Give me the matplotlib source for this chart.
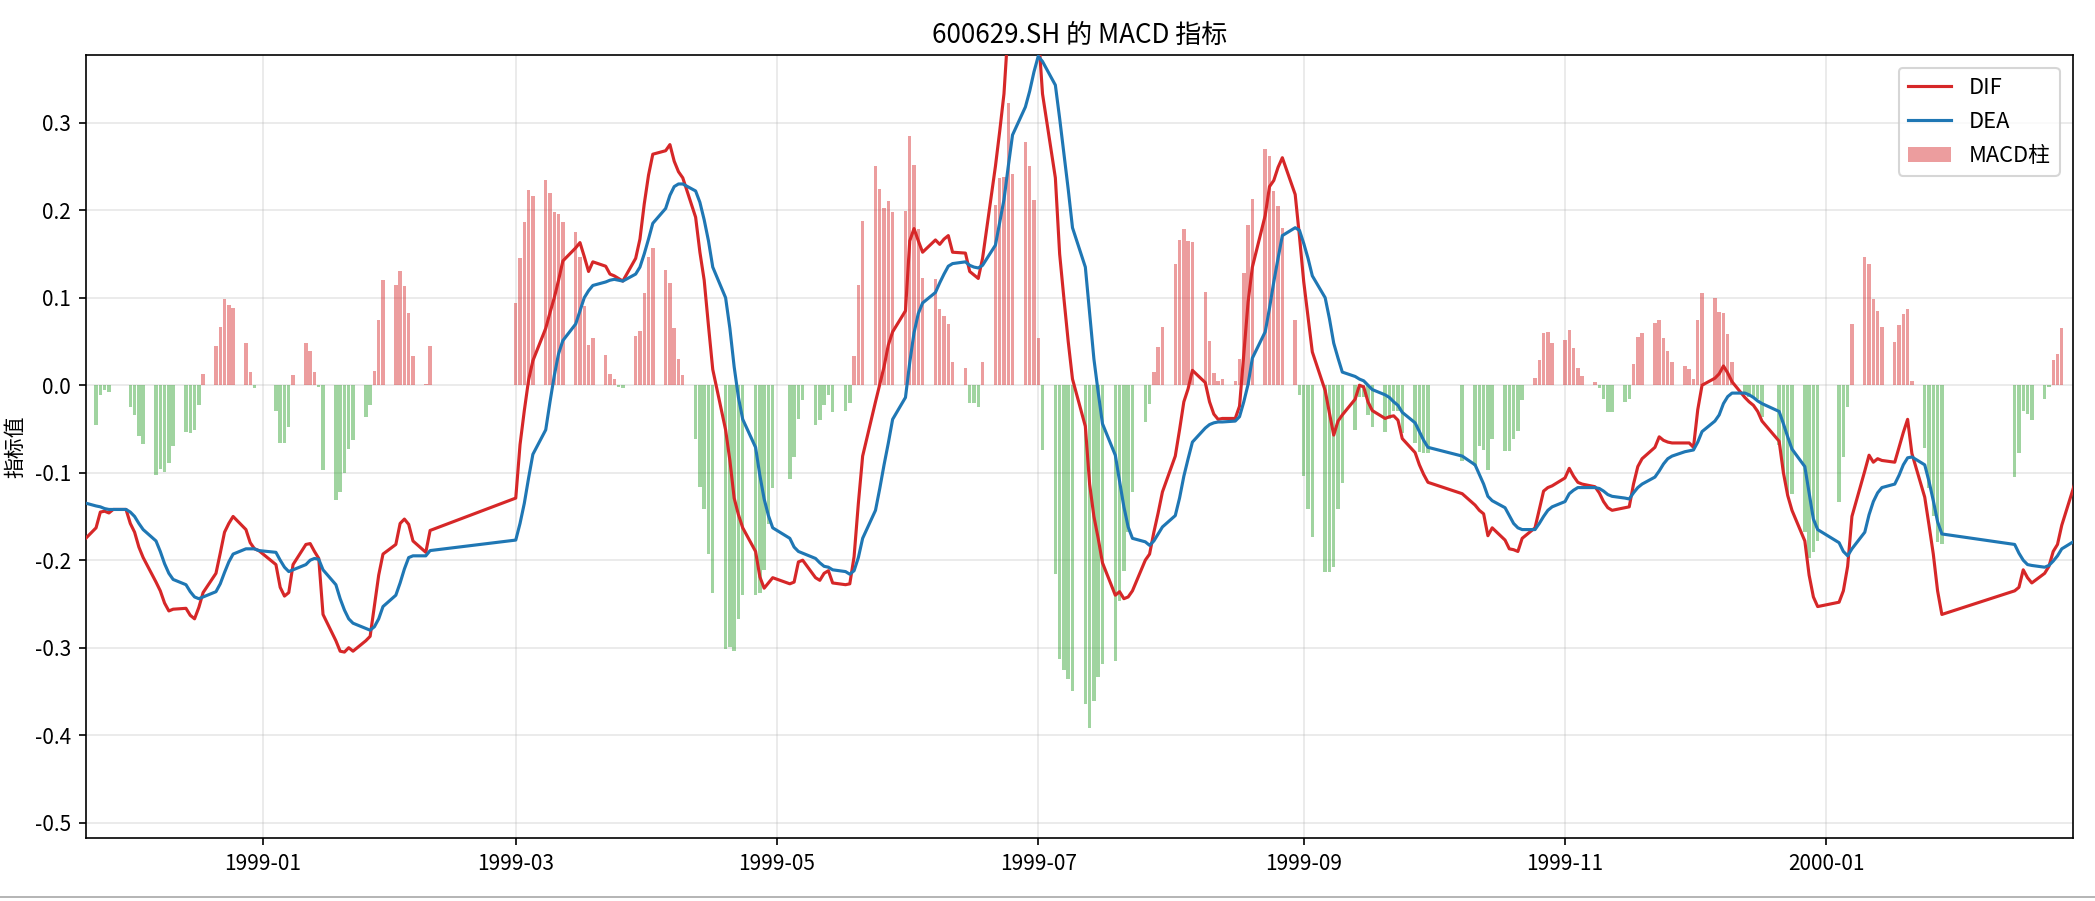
import numpy as np
import pandas as pd
import matplotlib
matplotlib.use("Agg")
import matplotlib.pyplot as plt
import matplotlib.dates as mdates
from matplotlib.patches import Patch
from matplotlib.lines import Line2D

plt.rcParams['font.family'] = ['Noto Sans CJK SC', 'DejaVu Sans']
plt.rcParams['axes.unicode_minus'] = False

# trading calendar (SSE), 1998-11-20 .. 2000-02-28
start_date = "1998-11-20"
end_date = "2000-02-28"
holidays = ["1999-01-01", ("1999-02-10", "1999-02-26"), "1999-05-03",
            ("1999-10-01", "1999-10-07"), "1999-12-20", "1999-12-31",
            "2000-01-03", ("2000-01-31", "2000-02-11")]

# MACD histogram (one value per trading day, grouped by week)
hist = [
    -0.087,
    -0.045, -0.011, -0.006, -0.008, 0.000,
    0.000, -0.025, -0.034, -0.058, -0.067,
    -0.103, -0.096, -0.099, -0.089, -0.069,
    -0.053, -0.055, -0.051, -0.023, 0.013,
    0.045, 0.067, 0.098, 0.092, 0.088,
    0.048, 0.015, -0.003, 0.000,
    -0.030, -0.066, -0.066, -0.048, 0.012,
    0.048, 0.039, 0.015, -0.002, -0.097,
    -0.131, -0.122, -0.100, -0.073, -0.063,
    -0.036, -0.023, 0.016, 0.074, 0.120,
    0.115, 0.130, 0.113, 0.083, 0.033,
    0.001, 0.045,
    0.094, 0.145, 0.187, 0.223, 0.216,
    0.235, 0.220, 0.198, 0.196, 0.187,
    0.175, 0.146, 0.090, 0.046, 0.054,
    0.035, 0.013, 0.007, -0.002, -0.003,
    0.056, 0.062, 0.105, 0.146, 0.157,
    0.132, 0.117, 0.065, 0.030, 0.012,
    -0.062, -0.116, -0.141, -0.193, -0.237,
    -0.301, -0.299, -0.304, -0.267, -0.240,
    -0.240, -0.238, -0.211, -0.159, -0.117,
    -0.107, -0.082, -0.039, -0.017,
    -0.045, -0.040, -0.023, -0.011, -0.031,
    -0.029, -0.020, 0.033, 0.115, 0.188,
    0.251, 0.224, 0.203, 0.211, 0.198,
    0.199, 0.285, 0.252, 0.179, 0.123,
    0.121, 0.087, 0.079, 0.070, 0.026,
    0.020, -0.020, -0.020, -0.025, 0.027,
    0.206, 0.237, 0.238, 0.323, 0.241,
    0.278, 0.250, 0.212, 0.054, -0.074,
    -0.216, -0.313, -0.325, -0.336, -0.349,
    -0.364, -0.392, -0.361, -0.334, -0.319,
    -0.315, -0.247, -0.212, -0.168, -0.122,
    -0.042, -0.022, 0.015, 0.044, 0.067,
    0.139, 0.166, 0.178, 0.165, 0.164,
    0.107, 0.050, 0.014, 0.005, 0.007,
    0.005, 0.030, 0.128, 0.183, 0.213,
    0.270, 0.262, 0.222, 0.205, 0.180,
    0.075, -0.011, -0.104, -0.142, -0.174,
    -0.213, -0.214, -0.208, -0.142, -0.112,
    -0.051, -0.014, -0.014, -0.034, -0.048,
    -0.053, -0.039, -0.029, -0.029, -0.055,
    -0.066, -0.076, -0.077, -0.078,
    -0.087,
    -0.092, -0.070, -0.074, -0.097, -0.062,
    -0.075, -0.075, -0.061, -0.052, -0.017,
    0.008, 0.029, 0.060, 0.061, 0.048,
    0.052, 0.063, 0.042, 0.020, 0.010,
    0.004, -0.003, -0.016, -0.031, -0.031,
    -0.019, -0.016, 0.024, 0.055, 0.060,
    0.071, 0.075, 0.054, 0.039, 0.027,
    0.022, 0.018, 0.007, 0.075, 0.105,
    0.100, 0.084, 0.083, 0.059, 0.027,
    -0.009, -0.014, -0.014, -0.016, -0.036,
    -0.068, -0.101, -0.123, -0.124,
    -0.168, -0.197, -0.191, -0.178,
    -0.133, -0.082, -0.025, 0.070,
    0.147, 0.139, 0.098, 0.085, 0.067,
    0.049, 0.069, 0.081, 0.087, 0.005,
    -0.072, -0.118, -0.149, -0.179, -0.182,
    -0.105, -0.077, -0.029, -0.033, -0.040,
    -0.016, -0.002, 0.029, 0.036, 0.065,
    0.129,
]

dif = [
    -0.178,
    -0.163, -0.145, -0.144, -0.146, -0.142,
    -0.142, -0.158, -0.168, -0.185, -0.197,
    -0.225, -0.235, -0.249, -0.258, -0.256,
    -0.255, -0.263, -0.267, -0.254, -0.237,
    -0.215, -0.192, -0.168, -0.158, -0.150,
    -0.165, -0.180, -0.187, -0.189,
    -0.205, -0.231, -0.241, -0.237, -0.205,
    -0.182, -0.181, -0.190, -0.198, -0.262,
    -0.292, -0.304, -0.305, -0.300, -0.304,
    -0.292, -0.287, -0.252, -0.217, -0.193,
    -0.182, -0.158, -0.153, -0.159, -0.178,
    -0.191, -0.166,
    -0.129, -0.068, -0.029, 0.006, 0.028,
    0.065, 0.083, 0.100, 0.120, 0.142,
    0.157, 0.163, 0.147, 0.130, 0.141,
    0.136, 0.127, 0.125, 0.122, 0.119,
    0.145, 0.167, 0.207, 0.240, 0.264,
    0.268, 0.275, 0.256, 0.244, 0.237,
    0.192, 0.152, 0.120, 0.068, 0.018,
    -0.051, -0.086, -0.129, -0.148, -0.163,
    -0.190, -0.219, -0.232, -0.226, -0.220,
    -0.227, -0.225, -0.202, -0.200,
    -0.220, -0.223, -0.215, -0.212, -0.226,
    -0.228, -0.227, -0.196, -0.135, -0.081,
    -0.019, 0.001, 0.021, 0.046, 0.061,
    0.085, 0.165, 0.179, 0.165, 0.152,
    0.166, 0.161, 0.167, 0.171, 0.152,
    0.151, 0.130, 0.126, 0.122, 0.145,
    0.250, 0.290, 0.333, 0.410, 0.405,
    0.457, 0.461, 0.464, 0.405, 0.333,
    0.237, 0.150, 0.099, 0.050, 0.007,
    -0.047, -0.113, -0.150, -0.175, -0.203,
    -0.240, -0.236, -0.244, -0.242, -0.235,
    -0.200, -0.193, -0.168, -0.146, -0.122,
    -0.081, -0.051, -0.019, -0.004, 0.017,
    0.003, -0.019, -0.033, -0.039, -0.038,
    -0.038, -0.024, 0.036, 0.095, 0.135,
    0.194, 0.227, 0.234, 0.249, 0.260,
    0.218, 0.170, 0.118, 0.078, 0.038,
    -0.006, -0.032, -0.057, -0.041, -0.034,
    -0.016, 0.000, -0.002, -0.019, -0.029,
    -0.038, -0.036, -0.035, -0.040, -0.061,
    -0.077, -0.091, -0.102, -0.111,
    -0.124,
    -0.137, -0.143, -0.147, -0.172, -0.163,
    -0.177, -0.187, -0.188, -0.190, -0.175,
    -0.163, -0.142, -0.121, -0.117, -0.115,
    -0.106, -0.095, -0.104, -0.111, -0.113,
    -0.116, -0.123, -0.133, -0.140, -0.143,
    -0.140, -0.139, -0.113, -0.093, -0.084,
    -0.071, -0.059, -0.063, -0.065, -0.066,
    -0.066, -0.066, -0.071, -0.028, 0.000,
    0.008, 0.013, 0.022, 0.014, 0.004,
    -0.014, -0.019, -0.023, -0.030, -0.041,
    -0.064, -0.100, -0.126, -0.143,
    -0.178, -0.217, -0.242, -0.253,
    -0.248, -0.235, -0.207, -0.150,
    -0.098, -0.080, -0.088, -0.084, -0.086,
    -0.088, -0.071, -0.054, -0.039, -0.078,
    -0.128, -0.160, -0.193, -0.235, -0.262,
    -0.235, -0.231, -0.211, -0.220, -0.226,
    -0.215, -0.207, -0.190, -0.182, -0.160,
    -0.113,
]

dea = [
    -0.134,
    -0.138, -0.139, -0.141, -0.142, -0.142,
    -0.142, -0.145, -0.150, -0.158, -0.165,
    -0.178, -0.190, -0.204, -0.215, -0.222,
    -0.228, -0.236, -0.242, -0.244, -0.242,
    -0.236, -0.227, -0.214, -0.202, -0.193,
    -0.187, -0.187, -0.187, -0.189,
    -0.191, -0.200, -0.208, -0.213, -0.211,
    -0.205, -0.200, -0.198, -0.199, -0.211,
    -0.228, -0.244, -0.257, -0.267, -0.272,
    -0.278, -0.280, -0.276, -0.267, -0.253,
    -0.240, -0.226, -0.210, -0.197, -0.195,
    -0.195, -0.189,
    -0.177, -0.158, -0.135, -0.106, -0.079,
    -0.051, -0.019, 0.011, 0.036, 0.051,
    0.070, 0.085, 0.100, 0.108, 0.114,
    0.118, 0.120, 0.121, 0.120, 0.119,
    0.127, 0.135, 0.150, 0.167, 0.185,
    0.202, 0.217, 0.227, 0.230, 0.230,
    0.222, 0.209, 0.189, 0.165, 0.135,
    0.100, 0.065, 0.021, -0.014, -0.039,
    -0.071, -0.103, -0.130, -0.149, -0.163,
    -0.175, -0.185, -0.190, -0.192,
    -0.198, -0.203, -0.207, -0.208, -0.211,
    -0.213, -0.216, -0.212, -0.197, -0.175,
    -0.143, -0.118, -0.091, -0.066, -0.039,
    -0.014, 0.026, 0.060, 0.082, 0.094,
    0.106, 0.117, 0.127, 0.136, 0.139,
    0.141, 0.137, 0.135, 0.134, 0.137,
    0.160, 0.186, 0.212, 0.250, 0.286,
    0.318, 0.336, 0.358, 0.376, 0.370,
    0.343, 0.305, 0.265, 0.224, 0.180,
    0.135, 0.083, 0.030, -0.008, -0.044,
    -0.080, -0.110, -0.139, -0.162, -0.175,
    -0.179, -0.183, -0.178, -0.170, -0.162,
    -0.149, -0.129, -0.104, -0.084, -0.065,
    -0.049, -0.045, -0.043, -0.042, -0.042,
    -0.041, -0.036, -0.019, 0.001, 0.031,
    0.061, 0.088, 0.118, 0.145, 0.171,
    0.180, 0.177, 0.162, 0.145, 0.125,
    0.100, 0.076, 0.048, 0.031, 0.015,
    0.010, 0.007, 0.005, 0.000, -0.005,
    -0.011, -0.014, -0.019, -0.023, -0.031,
    -0.043, -0.053, -0.063, -0.071,
    -0.081,
    -0.091, -0.102, -0.113, -0.127, -0.132,
    -0.140, -0.149, -0.158, -0.163, -0.165,
    -0.165, -0.158, -0.150, -0.143, -0.139,
    -0.133, -0.124, -0.120, -0.117, -0.117,
    -0.117, -0.118, -0.121, -0.125, -0.127,
    -0.129, -0.130, -0.123, -0.117, -0.113,
    -0.105, -0.098, -0.090, -0.084, -0.081,
    -0.076, -0.075, -0.074, -0.065, -0.053,
    -0.041, -0.034, -0.021, -0.013, -0.009,
    -0.009, -0.011, -0.014, -0.018, -0.021,
    -0.030, -0.044, -0.059, -0.073,
    -0.093, -0.123, -0.153, -0.165,
    -0.180, -0.190, -0.195, -0.187,
    -0.168, -0.148, -0.133, -0.123, -0.117,
    -0.113, -0.103, -0.091, -0.083, -0.082,
    -0.091, -0.110, -0.132, -0.156, -0.170,
    -0.182, -0.192, -0.200, -0.205, -0.206,
    -0.208, -0.206, -0.201, -0.195, -0.187,
    -0.178,
]

legend_labels = ['DIF', 'DEA', 'MACD柱']

# build trading dates
days = pd.bdate_range(start_date, end_date)
drop = []
for h in holidays:
    if isinstance(h, tuple):
        drop.extend(pd.date_range(h[0], h[1]))
    else:
        drop.append(pd.Timestamp(h))
dates = days[~days.isin(pd.DatetimeIndex(drop))]
n = min(len(dates), len(hist), len(dif), len(dea))
dates = dates[:n]
hist_a = np.array(hist[:n])
dif_a = np.array(dif[:n])
dea_a = np.array(dea[:n])

W, H = 2095, 901
fig = plt.figure(figsize=(W / 150, H / 150), dpi=150)
ax = fig.add_axes([85.6 / W, 1 - 838 / H, (2072.7 - 85.6) / W, (838 - 55) / H])

pos = hist_a >= 0
ax.bar(dates[pos], hist_a[pos], width=0.8, color='#d62728', alpha=0.45, zorder=2)
ax.bar(dates[~pos], hist_a[~pos], width=0.8, color='#2ca02c', alpha=0.45, zorder=2)
ax.plot(dates, dif_a, color='#d62728', lw=1.5, zorder=3)
ax.plot(dates, dea_a, color='#1f77b4', lw=1.5, zorder=3)

x0 = mdates.date2num(pd.Timestamp(start_date)) + 0.56
x1 = mdates.date2num(pd.Timestamp(end_date)) - 0.45
ax.set_xlim(x0, x1)
ax.set_ylim(-0.5175, 0.3774)
ax.set_yticks([-0.5, -0.4, -0.3, -0.2, -0.1, 0.0, 0.1, 0.2, 0.3])
ax.xaxis.set_major_locator(mdates.MonthLocator(bymonth=[1, 3, 5, 7, 9, 11]))
ax.xaxis.set_major_formatter(mdates.DateFormatter('%Y-%m'))
ax.tick_params(labelsize=10)
ax.grid(True, alpha=0.3)
ax.set_axisbelow(True)

ax.set_title('600629.SH 的 MACD 指标', fontsize=12.5)
ax.set_ylabel('指标值', fontsize=10)

handles = [Line2D([], [], color='#d62728', lw=1.5),
           Line2D([], [], color='#1f77b4', lw=1.5),
           Patch(facecolor='#d62728', alpha=0.45)]
ax.legend(handles, legend_labels, loc='upper right', fontsize=10.5,
          labelspacing=0.55, borderaxespad=0.6)

# thin grey rule along the bottom edge, as in the reference screenshot
fig.add_artist(Line2D([0, 1], [1 - 896.5 / H, 1 - 896.5 / H], transform=fig.transFigure,
                      color='#a8a8a8', lw=0.8))

fig.savefig('out.png', dpi=150)
